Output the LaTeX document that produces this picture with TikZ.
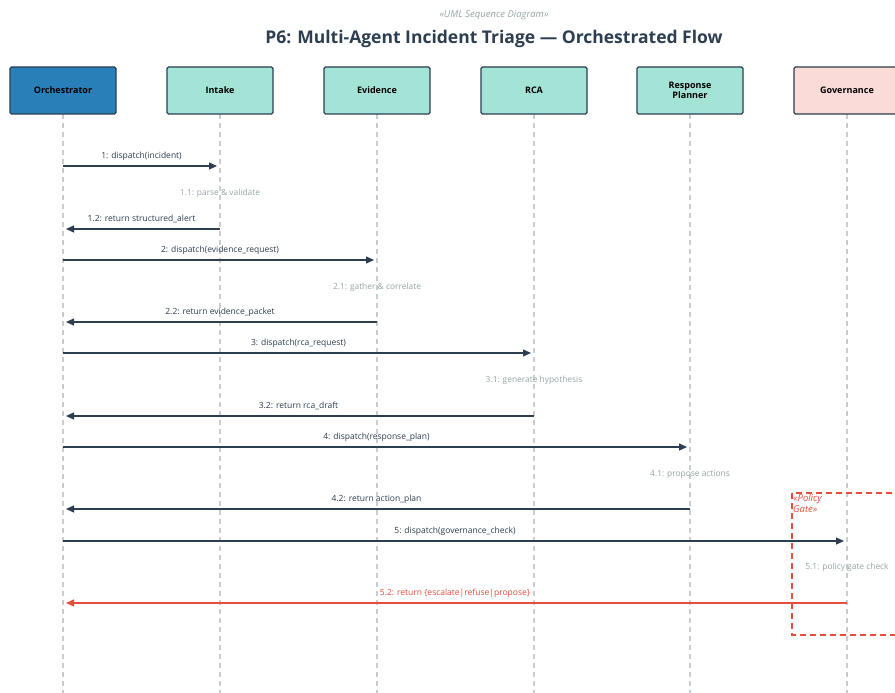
\documentclass[tikz,border=0pt]{standalone}
\usepackage{fontspec}
\setmainfont{Open Sans}
\usetikzlibrary{arrows.meta}
\definecolor{ink}{HTML}{2C3E50}
\definecolor{orchblue}{HTML}{2980B9}
\definecolor{agentteal}{HTML}{A3E4D7}
\definecolor{govpink}{HTML}{FADBD8}
\definecolor{alertred}{HTML}{E74C3C}
\definecolor{notegray}{HTML}{95A5A6}
\definecolor{lifegray}{HTML}{C8CDD1}
\tikzstyle{actor}=[draw=ink,line width=1.3pt,rounded corners=1.5pt,minimum width=106pt,minimum height=47pt,font=\fontsize{9}{10}\selectfont\bfseries,text=black,align=center,inner sep=0pt]
\tikzstyle{life}=[draw=lifegray,line width=1.2pt,dash pattern=on 5pt off 4pt]
\tikzstyle{msg}=[draw=ink,line width=1.2pt,-{Triangle[length=8pt,width=7pt]},shorten >=3pt]
\tikzstyle{ret}=[msg,draw=alertred,fill=alertred]
\tikzstyle{lbl}=[font=\fontsize{8.5}{9.5}\selectfont,text=ink,above=2pt]
\tikzstyle{rlbl}=[lbl,text=alertred]
\tikzstyle{note}=[font=\fontsize{8.4}{9.5}\selectfont,text=notegray]

\begin{document}
\begin{tikzpicture}[x=1pt,y=-1pt]
	\useasboundingbox[fill=white] (0,0) rectangle (895,693);
	\node[font=\fontsize{9.5}{10}\selectfont\itshape,text=notegray] (kind) at (494,15) {«UML Sequence Diagram»};
	\node[font=\fontsize{17.5}{19}\selectfont\bfseries,text=ink] (title) at (494,39) {P6: Multi-Agent Incident Triage — Orchestrated Flow};
	% lifelines
	\draw[life] (63,114) -- (63,693);
	\draw[life] (220,114) -- (220,693);
	\draw[life] (377,114) -- (377,693);
	\draw[life] (534,114) -- (534,693);
	\draw[life] (690,114) -- (690,693);
	\draw[life] (847,114) -- (847,693);
	% participants
	\node[actor,fill=orchblue] (orch) at (63,90.5) {Orchestrator};
	\node[actor,fill=agentteal] (intake) at (220,90.5) {Intake};
	\node[actor,fill=agentteal] (evid) at (377,90.5) {Evidence};
	\node[actor,fill=agentteal] (rca) at (534,90.5) {RCA};
	\node[actor,fill=agentteal] (plan) at (690,90.5) {Response\\Planner};
	\node[actor,fill=govpink] (gov) at (847,90.5) {Governance};
	% policy gate
	\draw[alertred,line width=1.5pt,dash pattern=on 6pt off 4pt] (792,493) rectangle (905,635);
	\node[anchor=north west,inner sep=1pt,align=left,font=\fontsize{9.5}{11}\selectfont\itshape,text=alertred] (gate) at (792,493) {«Policy\\Gate»};
	% messages
	\draw[msg] (orch |- 0,166) -- node[lbl]{1: dispatch(incident)} (intake |- 0,166);
	\node[note] (n11) at (220,193) {1.1: parse \& validate};
	\draw[msg] (intake |- 0,229) -- node[lbl]{1.2: return structured\_alert} (orch |- 0,229);
	\draw[msg] (orch |- 0,260) -- node[lbl]{2: dispatch(evidence\_request)} (evid |- 0,260);
	\node[note] (n21) at (377,287) {2.1: gather \& correlate};
	\draw[msg] (evid |- 0,322) -- node[lbl]{2.2: return evidence\_packet} (orch |- 0,322);
	\draw[msg] (orch |- 0,353) -- node[lbl]{3: dispatch(rca\_request)} (rca |- 0,353);
	\node[note] (n31) at (534,380) {3.1: generate hypothesis};
	\draw[msg] (rca |- 0,416) -- node[lbl]{3.2: return rca\_draft} (orch |- 0,416);
	\draw[msg] (orch |- 0,447) -- node[lbl]{4: dispatch(response\_plan)} (plan |- 0,447);
	\node[note] (n41) at (690,474) {4.1: propose actions};
	\draw[msg] (plan |- 0,509) -- node[lbl]{4.2: return action\_plan} (orch |- 0,509);
	\draw[msg] (orch |- 0,541) -- node[lbl]{5: dispatch(governance\_check)} (gov |- 0,541);
	\node[note] (n51) at (847,567) {5.1: policy gate check};
	\draw[ret] (gov |- 0,603) -- node[rlbl]{5.2: return \{escalate|refuse|propose\}} (orch |- 0,603);
\end{tikzpicture}
\end{document}
